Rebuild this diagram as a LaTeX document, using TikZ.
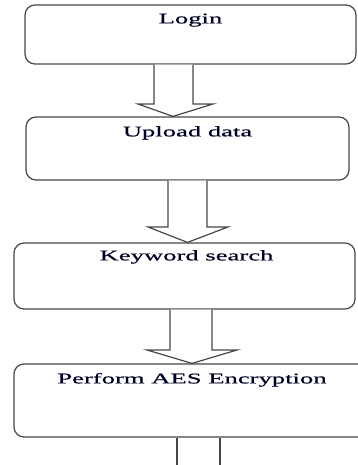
\documentclass[tikz,border=0pt]{standalone}
\usepackage{fontspec}
\setmainfont{Liberation Serif}[FakeStretch=1.8, FakeBold=0.6]
\begin{document}
\begin{tikzpicture}[x=1pt,y=-1pt,
  stepbox/.style={draw=black!72, line width=1.2pt, rounded corners=10pt},
  steptext/.style={anchor=base, inner sep=0pt, text=black!85!blue,
    font=\fontsize{14.8}{17}\selectfont},
  blockarrow/.style={draw=black!72, line width=1.2pt, fill=white, line join=miter}]
\useasboundingbox (0,0) rectangle (358,465);
\clip (0,0) rectangle (358,465);

% process steps
\node[stepbox, minimum width=331pt, minimum height=59pt, inner sep=0pt] (login) at (190.5,34.5) {};
\node[stepbox, minimum width=323pt, minimum height=63pt, inner sep=0pt] (upload) at (187.5,148.5) {};
\node[stepbox, minimum width=341pt, minimum height=66pt, inner sep=0pt] (keyword) at (184.5,276) {};
\node[stepbox, minimum width=356pt, minimum height=73pt, inner sep=0pt] (aes) at (192,400.5) {};

\node[steptext] (t1) at ([yshift=-19pt]login.north) {Login};
\node[steptext] (t2) at ([yshift=-20pt]upload.north) {Upload data};
\node[steptext] (t3) at ([yshift=-18pt, xshift=2pt]keyword.north) {Keyword search};
\node[steptext] (t4) at ([yshift=-20pt]aes.north) {Perform AES Encryption};

% hollow block arrows between the steps
\draw[blockarrow] (154,0 |- login.south) -- (154,104) -- (138,104)
  -- (173,0 |- upload.north) -- (213,104) -- (193,104) -- (193,0 |- login.south);
\draw[blockarrow] (168,0 |- upload.south) -- (168,227) -- (148,227)
  -- (187.5,0 |- keyword.north) -- (228,227) -- (207,227) -- (207,0 |- upload.south);
\draw[blockarrow] (170,0 |- keyword.south) -- (170,350) -- (147,350)
  -- (192,0 |- aes.north) -- (237,350) -- (212,350) -- (212,0 |- keyword.south);
\draw[blockarrow] (177,0 |- aes.south) -- (177,480) (220,480) -- (220,0 |- aes.south);
\end{tikzpicture}
\end{document}
